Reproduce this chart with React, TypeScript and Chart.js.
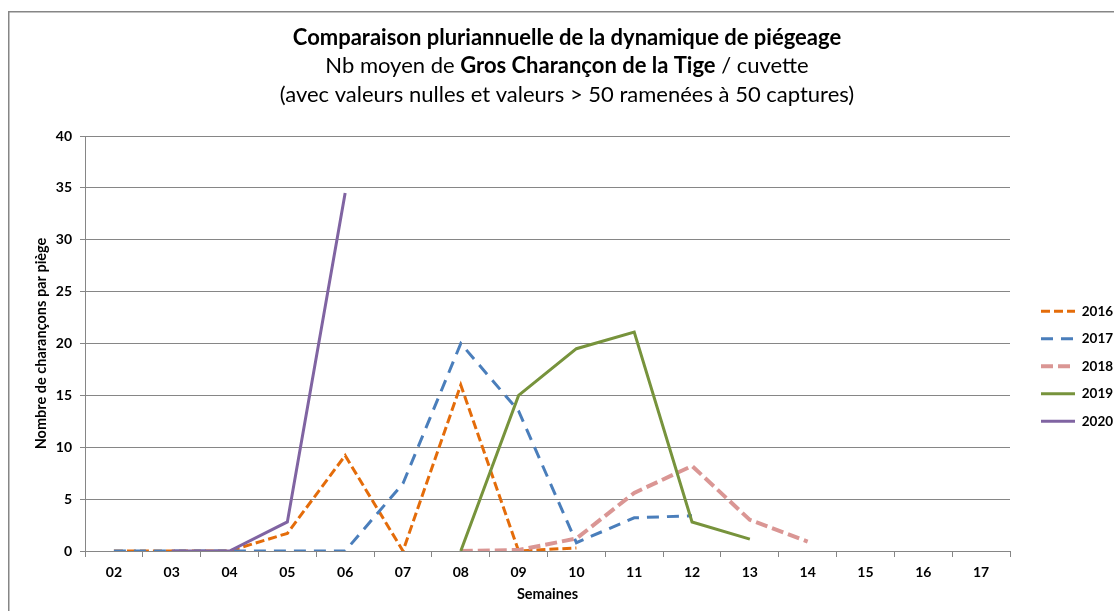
import React, { useEffect, useRef } from 'react';
import { Chart, registerables } from 'chart.js';

Chart.register(...registerables);

const weeks = ['02', '03', '04', '05', '06', '07', '08', '09', '10', '11', '12', '13', '14', '15', '16', '17'];
const years = ['2016', '2017', '2018', '2019', '2020'];

const v2016 = [0, 0, 0, 1.7, 9.2, 0, 16, 0, 0.3, null, null, null, null, null, null, null];
const v2017 = [0, 0, 0, 0, 0, 6.5, 20, 13.5, 0.8, 3.2, 3.4, null, null, null, null, null];
const v2018 = [null, null, null, null, null, null, 0, 0.1, 1.2, 5.6, 8.2, 3.0, 0.9, null, null, null];
const v2019 = [null, null, null, null, null, null, 0, 15, 19.5, 21.1, 2.8, 1.15, null, null, null, null];
const v2020 = [null, 0, 0, 2.8, 34.5, null, null, null, null, null, null, null, null, null, null, null];

const yTicksMax = 40;
const yTicksStep = 5;

const titleLine1 = 'Comparaison pluriannuelle de la dynamique de piégeage';
const titleLine2 = [
  { text: 'Nb moyen de ', bold: false },
  { text: 'Gros Charançon de la Tige', bold: true },
  { text: ' / cuvette', bold: false },
];
const titleLine3 = '(avec valeurs nulles et valeurs > 50 ramenées à 50 captures)';
const yTitle = 'Nombre de charançons par piège';
const xTitle = 'Semaines';

const FONT = 'Lato, "Open Sans", "DejaVu Sans", sans-serif';

const styles = [
  { color: '#E46C0A', width: 3, dash: [9, 4] },
  { color: '#4A7EBB', width: 3, dash: [12, 8] },
  { color: '#DA9694', width: 4, dash: [12, 5] },
  { color: '#77933C', width: 3, dash: [] as number[] },
  { color: '#8064A2', width: 3, dash: [] as number[] },
];

const series = [v2016, v2017, v2018, v2019, v2020];

export default function App() {
  const ref = useRef<HTMLCanvasElement | null>(null);

  useEffect(() => {
    const canvas = ref.current;
    if (!canvas) return;
    Chart.defaults.font.family = FONT;

    const frame = {
      id: 'frame',
      beforeDraw(chart: any) {
        const ctx = chart.ctx;
        ctx.save();
        ctx.fillStyle = '#ffffff';
        ctx.fillRect(0, 0, chart.width, chart.height);
        ctx.strokeStyle = '#868686';
        ctx.lineWidth = 1.5;
        ctx.beginPath();
        ctx.moveTo(0.75, chart.height);
        ctx.lineTo(0.75, 3.75);
        ctx.lineTo(chart.width, 3.75);
        ctx.stroke();
        ctx.restore();
      },
    };

    const titlePlugin = {
      id: 'customTitle',
      afterDraw(chart: any) {
        const ctx = chart.ctx;
        const cx = 559;
        ctx.save();
        ctx.fillStyle = '#000000';
        ctx.textBaseline = 'middle';
        ctx.textAlign = 'left';
        const size = 22;
        ctx.font = `bold ${size}px ${FONT}`;
        let w = ctx.measureText(titleLine1).width;
        ctx.fillText(titleLine1, cx - w / 2, 30);
        let total = 0;
        for (const seg of titleLine2) {
          ctx.font = `${seg.bold ? 'bold ' : ''}${size}px ${FONT}`;
          total += ctx.measureText(seg.text).width;
        }
        let x = cx - total / 2;
        for (const seg of titleLine2) {
          ctx.font = `${seg.bold ? 'bold ' : ''}${size}px ${FONT}`;
          ctx.fillText(seg.text, x, 58);
          x += ctx.measureText(seg.text).width;
        }
        ctx.font = `${size}px ${FONT}`;
        w = ctx.measureText(titleLine3).width;
        ctx.fillText(titleLine3, cx - w / 2, 87);
        ctx.restore();
      },
    };

    const legendPlace = {
      id: 'legendPlace',
      afterLayout(chart: any) {
        const lg = chart.legend;
        if (!lg) return;
        const h = lg.height;
        lg.left = 1019;
        lg.width = chart.width - 1019;
        lg.right = chart.width;
        lg.top = 282.5;
        lg.bottom = 282.5 + h;
      },
    };

    const chart = new Chart(canvas, {
      type: 'line',
      data: {
        labels: weeks,
        datasets: years.map((y, i) => ({
          label: y,
          data: series[i],
          borderColor: styles[i].color,
          backgroundColor: styles[i].color,
          borderWidth: styles[i].width,
          borderDash: styles[i].dash,
          pointRadius: 0,
          pointHoverRadius: 0,
          tension: 0,
          spanGaps: false,
          fill: false,
          order: -i,
        })),
      },
      options: {
        responsive: false,
        animation: false,
        layout: { padding: { left: 20, top: 128, right: 104, bottom: 0 } },
        plugins: {
          tooltip: { enabled: false },
          title: { display: false },
          legend: {
            position: 'chartArea',
            align: 'start',
            labels: {
              usePointStyle: true,
              pointStyle: 'line',
              pointStyleWidth: 34,
              padding: 14,
              color: '#000000',
              font: { size: 13.5, weight: 'bold', family: FONT },
              generateLabels: (ch: any) =>
                ch.data.datasets.map((ds: any, i: number) => ({
                  text: ds.label,
                  fillStyle: ds.borderColor,
                  strokeStyle: ds.borderColor,
                  lineWidth: ds.borderWidth,
                  lineDash: ds.borderDash,
                  lineCap: 'butt',
                  pointStyle: 'line',
                  fontColor: '#000000',
                  hidden: false,
                  datasetIndex: i,
                })),
            },
          },
        },
        scales: {
          x: {
            offset: true,
            grid: {
              offset: true,
              drawOnChartArea: false,
              drawTicks: true,
              tickLength: 6,
              color: '#868686',
            },
            border: { color: '#868686', width: 1 },
            ticks: {
              padding: 7,
              color: '#000000',
              font: { size: 14, weight: 'bold', family: FONT },
              maxRotation: 0,
              autoSkip: false,
            },
            title: {
              display: true,
              text: xTitle,
              color: '#000000',
              font: { size: 14.5, weight: 'bold', family: FONT },
              padding: { top: 0, bottom: 8 },
            },
            afterFit: (s: any) => {
              s.height = 60;
            },
          },
          y: {
            min: 0,
            max: yTicksMax,
            ticks: {
              stepSize: yTicksStep,
              padding: 8,
              color: '#000000',
              font: { size: 14, weight: 'bold', family: FONT },
            },
            grid: { color: '#868686', tickLength: 5, lineWidth: 1 },
            border: { color: '#868686', width: 1 },
            title: {
              display: true,
              text: yTitle,
              color: '#000000',
              font: { size: 14.5, weight: 'bold', family: FONT },
              padding: { top: 5, bottom: 0 },
            },
            afterFit: (s: any) => {
              s.width = 57;
            },
          },
        },
      },
      plugins: [frame, titlePlugin, legendPlace],
    } as any);

    return () => {
      chart.destroy();
    };
  }, []);

  return (
    <div style={{ position: 'fixed', left: 8, top: 8, width: 1106, height: 603, overflow: 'visible' }}>
      <canvas ref={ref} width={1106} height={603} style={{ display: 'block', width: 1106, height: 603 }} />
    </div>
  );
}
